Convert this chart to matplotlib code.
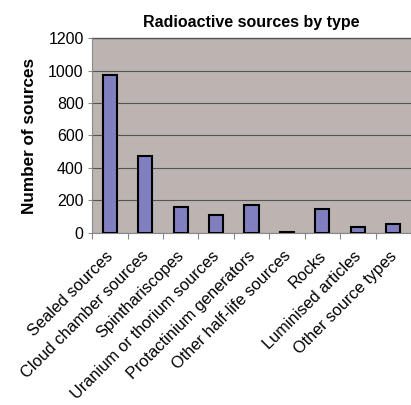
import numpy as np
import matplotlib.pyplot as plt

plt.rcParams['font.family'] = ['Liberation Sans', 'DejaVu Sans']

categories = ["Sealed sources", "Cloud chamber sources", "Spinthariscopes",
              "Uranium or thorium sources", "Protactinium generators",
              "Other half-life sources", "Rocks", "Luminised articles",
              "Other source types"]
counts = [970, 475, 160, 110, 170, 5, 150, 35, 55]
yticks = [0, 200, 400, 600, 800, 1000, 1200]

fig = plt.figure(figsize=(4.11, 4.05), dpi=100)
ax = fig.add_axes([0.224, 0.425, 0.776, 0.481])
ax.set_facecolor('#bcb4b0')

x = np.arange(len(categories))
ax.bar(x, counts, width=0.4, color='#8080c0', edgecolor='black', linewidth=1.5, zorder=3)

ax.set_xlim(-0.5, len(categories) - 0.5)
ax.set_ylim(0, 1200)
ax.set_yticks(yticks)
ax.set_yticklabels([str(v) for v in yticks], fontsize=11.5)
ax.yaxis.grid(True, color='#555555', linewidth=0.8, zorder=0)

# category labels are drawn as text so they sit between the boundary ticks
ax.set_xticks(np.arange(len(categories) + 1) - 0.5)
ax.set_xticklabels([])
ax.tick_params(axis='x', length=4, color='#888888')
ax.tick_params(axis='y', length=3, color='#888888', pad=3)
for i, c in enumerate(categories):
    ax.text(i - 0.12, -95, c, rotation=45, ha='right', va='top',
            rotation_mode='anchor', fontsize=11.8)

for s in ('top', 'right'):
    ax.spines[s].set_visible(False)
ax.spines['left'].set_color('#888888')
ax.spines['bottom'].set_color('#888888')
ax.plot([0, 1], [1, 1], transform=ax.transAxes, color='#555555', lw=1, clip_on=False)

ax.set_title("Radioactive sources by type", fontsize=11.5, fontweight='bold', pad=8)
ax.set_ylabel("Number of sources", fontsize=12.3, fontweight='bold', labelpad=8)

fig.savefig('out.png', dpi=100)
